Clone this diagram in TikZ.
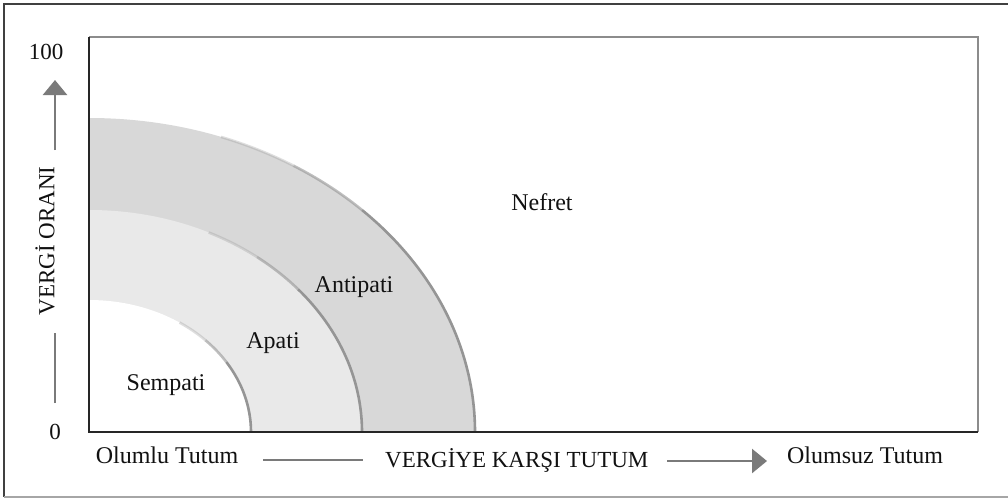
\documentclass[tikz,border=0pt]{standalone}
\usepackage{fontspec}
\setmainfont{Liberation Serif}
\usetikzlibrary{arrows.meta}
\definecolor{bandmid}{HTML}{D8D8D8}
\definecolor{bandlight}{HTML}{E9E9E9}
\definecolor{edgegray}{HTML}{959595}
\definecolor{axisgray}{HTML}{7A7A7A}
\definecolor{txt}{HTML}{111111}
\tikzset{
  lbl/.style={font=\fontsize{24}{28}\selectfont, text=txt, inner sep=0pt},
  axlbl/.style={font=\fontsize{23}{27}\selectfont, text=txt, inner sep=0pt},
  axline/.style={draw=axisgray, line width=2.5pt},
  axarrow/.style={axline, -{Triangle[length=15pt,width=24pt]}},
  edgeline/.style={draw=edgegray, line width=2.6pt},
}
\begin{document}
\begin{tikzpicture}[x=1pt,y=-1pt]
\useasboundingbox (0,0) rectangle (1008,499);
\fill[white] (0,0) rectangle (1008,499);
% outer frame
\draw[draw=black!75, line width=1.3pt] (1012,4) -- (4,4) -- (4,497);
\draw[draw=black!35, line width=1.3pt] (4,497) -- (1012,497);
% bands
\coordinate (O) at (89,432);
\fill[bandmid] (O) -- ++(386pt,0pt) arc[start angle=0,end angle=90,x radius=386pt,y radius=314pt] -- cycle;
\fill[bandlight] (O) -- ++(273pt,0pt) arc[start angle=0,end angle=90,x radius=273pt,y radius=222pt] -- cycle;
\fill[white] (O) -- ++(162pt,0pt) arc[start angle=0,end angle=90,x radius=162pt,y radius=132pt] -- cycle;
% edge lines, fading upward
\foreach \rx/\ry/\a/\b/\c in {386/314/45/58/70, 273/222/40/52/64, 162/132/32/44/56}{
  \draw[edgeline] (O) ++(\rx,0) arc[start angle=0,end angle=\a,x radius=\rx pt,y radius=\ry pt];
  \draw[edgeline, opacity=0.6] (O) ++({\rx*cos(\a)},{-\ry*sin(\a)}) arc[start angle=\a,end angle=\b,x radius=\rx pt,y radius=\ry pt];
  \draw[edgeline, opacity=0.3] (O) ++({\rx*cos(\b)},{-\ry*sin(\b)}) arc[start angle=\b,end angle=\c,x radius=\rx pt,y radius=\ry pt];
}
% plot box
\draw[draw=black!45, line width=1.8pt] (89,37) -- (978,37) -- (978,432);
\draw[draw=black!85, line width=1.5pt] (89,37) -- (89,432) -- (978,432);
% region labels
\node[lbl] (sempati) at (166,385) {Sempati};
\node[lbl] (apati) at (273,343) {Apati};
\node[lbl] (antipati) at (354,287) {Antipati};
\node[lbl] (nefret) at (542,202) {Nefret};
% y axis
\node[axlbl] (ymax) at (46,52) {100};
\node[axlbl] (ymin) at (55,432) {0};
\node[axlbl, rotate=90] (ylab) at (45,241) {VERG\.{I} ORANI};
\coordinate (ytop) at (55,80);
\coordinate (ybot) at (55,403);
\draw[axarrow] (55,150) -- (ytop);
\draw[axline] (ybot) -- (55,333);
% x axis
\node[lbl] (olumlu) at (167,455) {Olumlu Tutum};
\node[axlbl, anchor=west] (xlab) at (385,460) {VERG\.{I}YE KARŞI TUTUM};
\node[lbl] (olumsuz) at (865,455) {Olumsuz Tutum};
\draw[axline] (263,460) -- (363,460);
\draw[axarrow] (667,461) -- (767,461);
\end{tikzpicture}
\end{document}
